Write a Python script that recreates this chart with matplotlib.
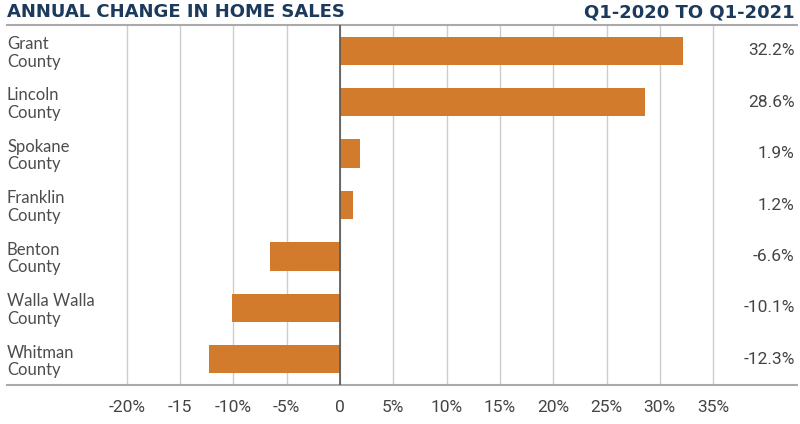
import matplotlib
matplotlib.use("Agg")
import matplotlib.pyplot as plt

counties = ["Grant\nCounty", "Lincoln\nCounty", "Spokane\nCounty", "Franklin\nCounty",
            "Benton\nCounty", "Walla Walla\nCounty", "Whitman\nCounty"]
changes = [32.2, 28.6, 1.9, 1.2, -6.6, -10.1, -12.3]
value_labels = ["32.2%", "28.6%", "1.9%", "1.2%", "-6.6%", "-10.1%", "-12.3%"]
tick_values = [-20, -15, -10, -5, 0, 5, 10, 15, 20, 25, 30, 35]
tick_labels = ["-20%", "-15", "-10%", "-5%", "0", "5%", "10%", "15%", "20%", "25%", "30%", "35%"]
title_left = "ANNUAL CHANGE IN HOME SALES"
title_right = "Q1-2020 TO Q1-2021"

W, H = 800, 424
fig = plt.figure(figsize=(W / 100, H / 100), dpi=100)
ax = fig.add_axes([7 / W, 1 - 385 / H, 790 / W, 360 / H])

px_per = 10.66
x0 = 340
ax.set_xlim((7 - x0) / px_per, (797 - x0) / px_per)
ax.set_ylim(len(counties) - 0.5, -0.5)

ypos = list(range(len(counties)))
ax.barh(ypos, changes, height=0.55, color="#D27B2C", zorder=3)

ax.set_xticks(tick_values)
ax.set_xticklabels(tick_labels, fontsize=12.5, color="#444444", family="Roboto")
ax.tick_params(axis="x", length=0, pad=11)
ax.set_yticks([])
ax.grid(axis="x", color="#cccccc", linewidth=1, zorder=0)
ax.axvline(0, color="#555555", linewidth=1.2, zorder=4)

for s in ["left", "right"]:
    ax.spines[s].set_visible(False)
ax.spines["top"].set_color("#aaaaaa")
ax.spines["top"].set_linewidth(1.5)
ax.spines["bottom"].set_color("#aaaaaa")
ax.spines["bottom"].set_linewidth(1.5)

for y, lab in zip(ypos, counties):
    ax.text(0.0, y + 0.04, lab, transform=ax.get_yaxis_transform(), ha="left", va="center",
            fontsize=12, color="#4d4d4d", family="Lato", linespacing=1.12)

for y, lab in zip(ypos, value_labels):
    ax.text(0.997, y, lab, transform=ax.get_yaxis_transform(), ha="right", va="center",
            fontsize=12.5, color="#444444", family="Roboto")

fig.text(7 / W, 1 - 12 / H, title_left, ha="left", va="center", fontsize=13,
         fontweight="bold", color="#1B3A5C", family="DejaVu Sans")
fig.text(795 / W, 1 - 12 / H, title_right, ha="right", va="center", fontsize=13,
         fontweight="bold", color="#1B3A5C", family="DejaVu Sans")

fig.savefig("out.png", dpi=100)
